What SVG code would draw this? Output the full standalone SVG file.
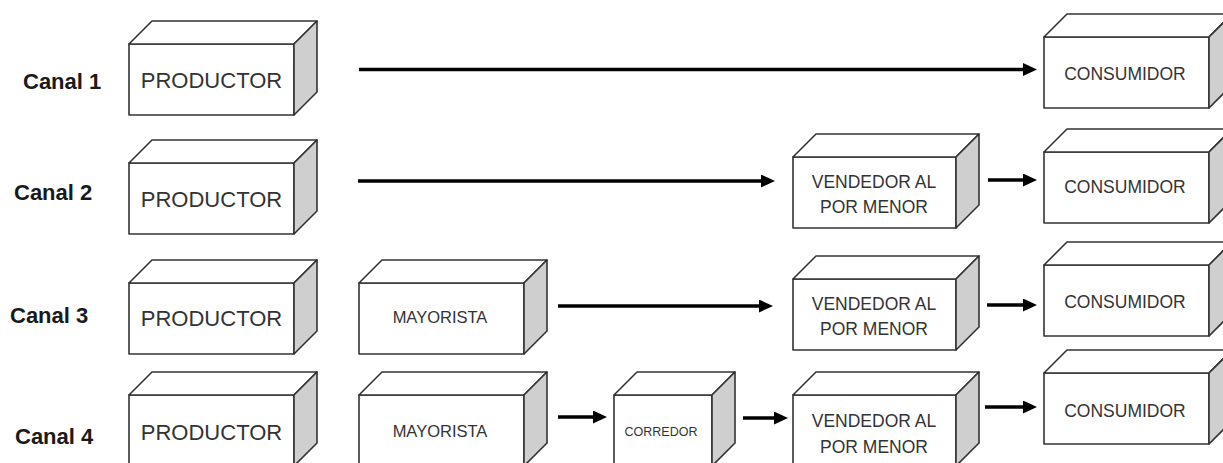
<svg xmlns="http://www.w3.org/2000/svg" xmlns:xlink="http://www.w3.org/1999/xlink" width="1223" height="463" viewBox="0 0 1223 463">
<style>
.f{fill:#fff;stroke:#333;stroke-width:1.6;stroke-linejoin:round}
.s{fill:#cfcfcf;stroke:#333;stroke-width:1.6;stroke-linejoin:round}
.lbl{font-family:"Liberation Sans",Arial,sans-serif;font-weight:bold;font-size:22px;fill:#1a1a1a}
.t{font-family:"Liberation Sans",Arial,sans-serif;fill:#333;text-anchor:middle}
.big{font-size:22px}
.mid{font-size:17.5px}
.may{font-size:16.5px}
.sm{font-size:12.5px}
.c{stroke:#000;stroke-width:3.5;fill:none;marker-end:url(#ah)}
</style>
<defs>
<marker id="ah" markerUnits="userSpaceOnUse" markerWidth="14" markerHeight="13" viewBox="0 0 14 13" refX="4" refY="6.5" orient="auto">
<path d="M0,0 L14,6.5 L0,13 z" fill="#000"/>
</marker>
<g id="b165">
<rect class="f" x="0" y="0" width="165" height="71"/>
<polygon class="f" points="0,0 23,-23 188,-23 165,0"/>
<polygon class="s" points="165,0 188,-23 188,48 165,71"/>
</g>
<g id="b163">
<rect class="f" x="0" y="0" width="163" height="71"/>
<polygon class="f" points="0,0 23,-23 186,-23 163,0"/>
<polygon class="s" points="163,0 186,-23 186,48 163,71"/>
</g>
<g id="b98">
<rect class="f" x="0" y="0" width="98" height="71"/>
<polygon class="f" points="0,0 23,-23 121,-23 98,0"/>
<polygon class="s" points="98,0 121,-23 121,48 98,71"/>
</g>
</defs>
<rect width="1223" height="463" fill="#fff"/>

<g id="labels">
<text class="lbl" x="23" y="89">Canal 1</text>
<text class="lbl" x="14" y="200">Canal 2</text>
<text class="lbl" x="10" y="323">Canal 3</text>
<text class="lbl" x="15" y="444">Canal 4</text>
</g>

<g id="prod1"><use xlink:href="#b165" x="129" y="44"/><text class="t big" x="211.5" y="88">PRODUCTOR</text></g>
<g id="cons1"><use xlink:href="#b165" x="1044" y="37"/><text class="t mid" x="1125" y="80">CONSUMIDOR</text></g>

<g id="prod2"><use xlink:href="#b165" x="129" y="163"/><text class="t big" x="211.5" y="207">PRODUCTOR</text></g>
<g id="vend2"><use xlink:href="#b163" x="793" y="157"/><text class="t mid" x="874" y="188">VENDEDOR AL</text><text class="t mid" x="874" y="213">POR MENOR</text></g>
<g id="cons2"><use xlink:href="#b165" x="1044" y="152"/><text class="t mid" x="1125" y="193">CONSUMIDOR</text></g>

<g id="prod3"><use xlink:href="#b165" x="129" y="283"/><text class="t big" x="211.5" y="326">PRODUCTOR</text></g>
<g id="may3"><use xlink:href="#b165" x="359" y="283"/><text class="t may" x="440" y="323">MAYORISTA</text></g>
<g id="vend3"><use xlink:href="#b163" x="793" y="279"/><text class="t mid" x="874" y="310">VENDEDOR AL</text><text class="t mid" x="874" y="335">POR MENOR</text></g>
<g id="cons3"><use xlink:href="#b165" x="1044" y="265"/><text class="t mid" x="1125" y="308">CONSUMIDOR</text></g>

<g id="prod4"><use xlink:href="#b165" x="129" y="395"/><text class="t big" x="211.5" y="440">PRODUCTOR</text></g>
<g id="may4"><use xlink:href="#b165" x="359" y="395"/><text class="t may" x="440" y="437">MAYORISTA</text></g>
<g id="corr4"><use xlink:href="#b98" x="614" y="395"/><text class="t sm" x="661" y="436">CORREDOR</text></g>
<g id="vend4"><use xlink:href="#b163" x="793" y="395"/><text class="t mid" x="874" y="427">VENDEDOR AL</text><text class="t mid" x="874" y="453">POR MENOR</text></g>
<g id="cons4"><use xlink:href="#b165" x="1044" y="373"/><text class="t mid" x="1125" y="417">CONSUMIDOR</text></g>

<g id="connectors">
<line class="c" x1="359" y1="69.5" x2="1027" y2="69.5"/>
<line class="c" x1="358" y1="181" x2="765" y2="181"/>
<line class="c" x1="988" y1="180" x2="1027" y2="180"/>
<line class="c" x1="558" y1="306" x2="763" y2="306"/>
<line class="c" x1="987" y1="305" x2="1027" y2="305"/>
<line class="c" x1="558" y1="417" x2="597" y2="417"/>
<line class="c" x1="743" y1="418" x2="778" y2="418"/>
<line class="c" x1="985" y1="407" x2="1027" y2="407"/>
</g>
</svg>
